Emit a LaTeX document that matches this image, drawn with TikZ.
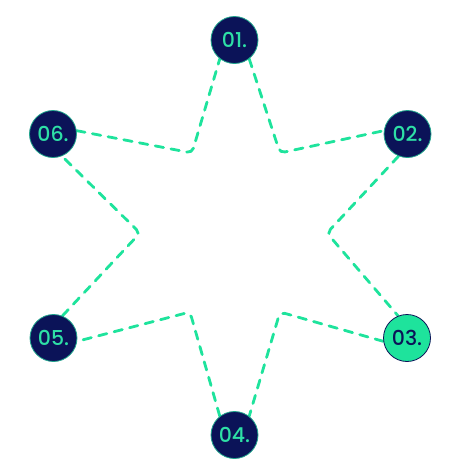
\documentclass[tikz,border=0pt]{standalone}
\usepackage{fontspec}
\IfFontExistsTF{Poppins Medium}{\setmainfont{Poppins Medium}}{\setmainfont{Poppins}}
\usetikzlibrary{backgrounds}
\definecolor{navy}{HTML}{0B1358}
\definecolor{mint}{HTML}{1EE39C}
\definecolor{minttext}{HTML}{2EE0A6}
\definecolor{rim}{HTML}{1FA58C}
\tikzset{
  numdark/.style={circle, minimum size=47pt, inner sep=0pt, fill=navy, draw=rim, line width=0.8pt,
    text=minttext, font=\fontsize{20.5}{20.5}\selectfont},
  numlight/.style={circle, minimum size=47pt, inner sep=0pt, fill=mint, draw=navy, line width=0.8pt,
    text=navy, font=\fontsize{20.5}{20.5}\selectfont},
  starline/.style={draw=mint, line width=2.8pt, line cap=round, dash pattern=on 8.5pt off 7.5pt, rounded corners=5pt}
}
\begin{document}
\begin{tikzpicture}[x=1pt,y=-1pt]
\useasboundingbox (0,0) rectangle (468,469);
\node[numdark] (n1) at (234.5,40) {01.};
\node[numdark] (n2) at (407.5,134) {02.};
\node[numlight] (n3) at (407,338) {03.};
\node[numdark] (n4) at (234.5,435) {04.};
\node[numdark] (n5) at (53.5,338) {05.};
\node[numdark] (n6) at (53,134) {06.};
\coordinate (i12) at (280,153);
\coordinate (i23) at (327,233);
\coordinate (i34) at (280,312);
\coordinate (i45) at (190,312);
\coordinate (i56) at (140,233);
\coordinate (i61) at (192,153);
\begin{pgfonlayer}{background}
\draw[starline] (n1.308) -- (i12) -- (n2.172);
\draw[starline] (n2.248) -- (i23) -- (n3.112);
\draw[starline] (n3.188) -- (i34) -- (n4.52);
\draw[starline] (n4.128) -- (i45) -- (n5.352);
\draw[starline] (n5.68) -- (i56) -- (n6.292);
\draw[starline] (n6.8) -- (i61) -- (n1.232);
\end{pgfonlayer}
\end{tikzpicture}
\end{document}
